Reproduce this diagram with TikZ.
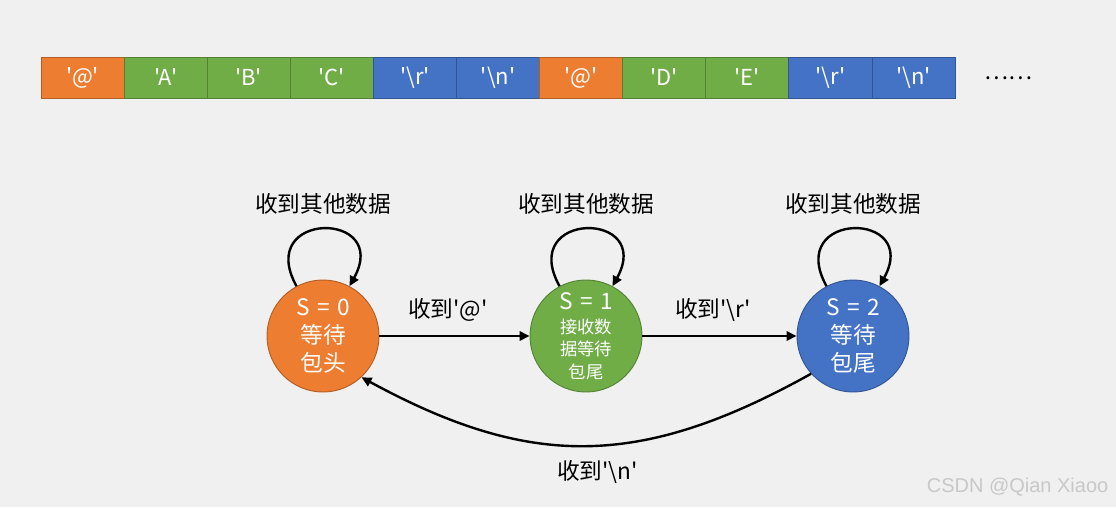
\documentclass[tikz,border=0pt]{standalone}
\usepackage{fontspec}
\setmainfont{Noto Sans CJK SC}[Ligatures=TeXOff]
\newfontfamily\wmfont{Liberation Sans}
\usetikzlibrary{arrows.meta}
\definecolor{stbg}{RGB}{240,240,240}
\definecolor{storange}{RGB}{237,125,49}
\definecolor{stgreen}{RGB}{112,173,71}
\definecolor{stblue}{RGB}{68,114,196}
\definecolor{stmark}{RGB}{200,200,200}

\begin{document}
\begin{tikzpicture}[
    x=0.75pt, y=-0.75pt,
    >={Triangle[length=7.5pt,width=7pt]},
    tag/.style={font=\fontsize{17}{20}\selectfont, inner sep=1pt},
    byte/.style={draw=#1!75!black, fill=#1, line width=0.7pt, text=white,
      minimum width=62.3pt, minimum height=30.8pt, inner sep=0pt,
      font=\fontsize{16.5}{19}\selectfont},
    state/.style={circle, draw=#1!75!black, fill=#1, line width=0.7pt,
      minimum size=84pt, inner sep=0pt, text=white, align=center,
      font=\fontsize{17}{21}\selectfont},
    flow/.style={->, line width=1.8pt},
  ]

  \def\sm{\fontsize{13}{16}\selectfont}
  \def\eq{\hspace{0.33em}=\hspace{0.33em}}

  % background and page size
  \fill[stbg] (0,0) rectangle (1116,507);
  \useasboundingbox (0,0) rectangle (1116,507);

  % received byte stream
  \foreach \ch/\col [count=\i] in {'@'/storange, 'A'/stgreen, 'B'/stgreen,
      'C'/stgreen, '\textbackslash r'/stblue, '\textbackslash n'/stblue,
      '@'/storange, 'D'/stgreen, 'E'/stgreen, '\textbackslash r'/stblue,
      '\textbackslash n'/stblue}
    \node[byte=\col] (b\i) at ({41+83.1*\i-41.55}, 77.5) {\ch};
  \node[tag] (more) at (1008, 78) {……};

  % states
  \node[state=storange] (s0) at (323,336) {S\eq 0\\等待\\包头};
  \node[state=stgreen] (s1) at (586,336)
    {S\eq 1\\[-3pt]{\sm 接收数}\\[-4pt]{\sm 据等待}\\[-4pt]{\sm 包尾}};
  \node[state=stblue] (s2) at (853,336) {S\eq 2\\等待\\包尾};

  % self loops
  \draw[flow] (s0.118) .. controls +(-42,-76) and +(42,-76) .. (s0.62)
    node[midway, above=9pt, tag] (l0) {收到其他数据};
  \draw[flow] (s1.118) .. controls +(-42,-76) and +(42,-76) .. (s1.62)
    node[midway, above=9pt, tag] (l1) {收到其他数据};
  \draw[flow] (s2.118) .. controls +(-42,-76) and +(42,-76) .. (s2.62)
    node[midway, above=9pt, tag] (l2) {收到其他数据};

  % transitions
  \draw[flow] (s0) -- (s1)
    node[midway, above=9pt, xshift=-5pt, tag] (t01) {收到'@'};
  \draw[flow] (s1) -- (s2)
    node[midway, above=9pt, xshift=-5pt, tag] (t12) {收到'\textbackslash r'};
  \draw[flow] (s2.222) .. controls (640,469) and (530,469) .. (s0.313)
    node[midway, below=9pt, xshift=9pt, tag] (t20) {收到'\textbackslash n'};

  % watermark
  \node[font=\wmfont\fontsize{15}{17}\selectfont, text=stmark, anchor=east]
    (mark) at (1113,487) {CSDN @Qian Xiaoo};

\end{tikzpicture}
\end{document}
